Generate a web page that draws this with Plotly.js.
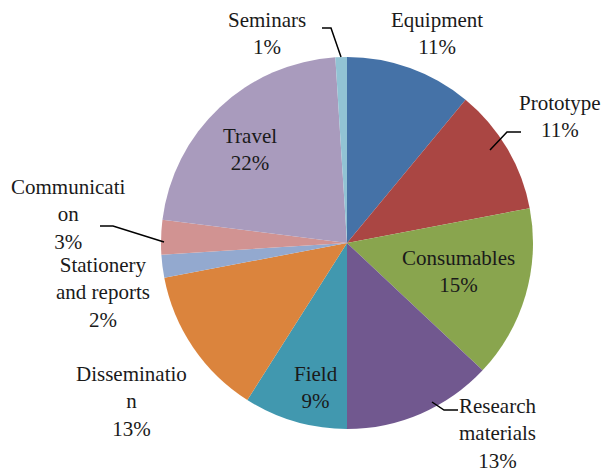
<!DOCTYPE html>
<html>
<head>
<meta charset="utf-8">
<script src="https://cdn.plot.ly/plotly-3.0.1.min.js"></script>
<style>
html,body{margin:0;padding:0;background:#fff;}
#chart{width:609px;height:474px;}
</style>
</head>
<body>
<div id="chart"></div>
<script>
// ---- data ----
var categories = ["Equipment", "Prototype", "Consumables", "Research materials", "Field",
                  "Dissemination", "Stationery and reports", "Communication", "Travel", "Seminars"];
// label text as wrapped in the original chart
var wrappedLabels = ["Equipment", "Prototype", "Consumables", "Research<br>materials", "Field",
                     "Disseminatio<br>n", "Stationery<br>and reports", "Communicati<br>on", "Travel", "Seminars"];
var values = [11, 11, 15, 13, 9, 13, 2, 3, 22, 1];
var colors = ["#4572A7", "#AA4643", "#89A54E", "#71588F", "#4198AF",
              "#DB843D", "#93A9CF", "#D19392", "#A99BBD", "#92C3D4"];

// ---- layout helpers (pixel -> paper) ----
var W = 609, H = 474;
function px(x) { return x / W; }
function py(y) { return 1 - y / H; }

// label centre positions (pixels), one per category
var labelPos = [[437, 33], [560, 116], [458, 271], [497, 433], [316, 387],
                [131, 401], [103, 292], [68, 214], [250, 149], [267, 33]];

var total = values.reduce(function (a, b) { return a + b; }, 0);
var annotations = categories.map(function (c, i) {
  var pct = Math.round(values[i] / total * 100);
  return {
    x: px(labelPos[i][0]), y: py(labelPos[i][1]), xref: 'paper', yref: 'paper',
    text: wrappedLabels[i] + '<br>' + pct + '%', showarrow: false,
    xanchor: 'center', yanchor: 'middle',
    font: {family: 'Liberation Serif', size: 21, color: '#1a1a1a'}
  };
});

function path(pts) {
  return pts.map(function (p, i) { return (i ? 'L' : 'M') + px(p[0]) + ',' + py(p[1]); }).join(' ');
}
var lineStyle = {color: '#000', width: 1.5};
var shapes = [
  {type: 'path', xref: 'paper', yref: 'paper', path: path([[322, 28], [331, 28], [341, 57]]), line: lineStyle},
  {type: 'path', xref: 'paper', yref: 'paper', path: path([[521, 132], [507, 132], [490, 150]]), line: lineStyle},
  {type: 'path', xref: 'paper', yref: 'paper', path: path([[100, 226], [113, 226], [164, 242]]), line: lineStyle},
  {type: 'path', xref: 'paper', yref: 'paper', path: path([[458, 410], [444, 410], [432, 402]]), line: lineStyle}
];

var trace = {
  type: 'pie',
  labels: categories,
  values: values,
  sort: false,
  direction: 'clockwise',
  textinfo: 'none',
  marker: {colors: colors},
  domain: {x: [px(161), px(533)], y: [py(429), py(57)]}
};

var layout = {
  width: W, height: H,
  margin: {l: 0, r: 0, t: 0, b: 0},
  font: {family: 'Liberation Serif', color: '#1a1a1a'},
  showlegend: false,
  annotations: annotations,
  shapes: shapes
};

Plotly.newPlot('chart', [trace], layout, {staticPlot: true}).then(function (gd) {
  var texts = gd.querySelectorAll('text, tspan');
  for (var i = 0; i < texts.length; i++) {
    texts[i].style.fontFamily = "'Liberation Serif', serif";
    texts[i].setAttribute('font-family', 'Liberation Serif');
  }
});
</script>
</body>
</html>
